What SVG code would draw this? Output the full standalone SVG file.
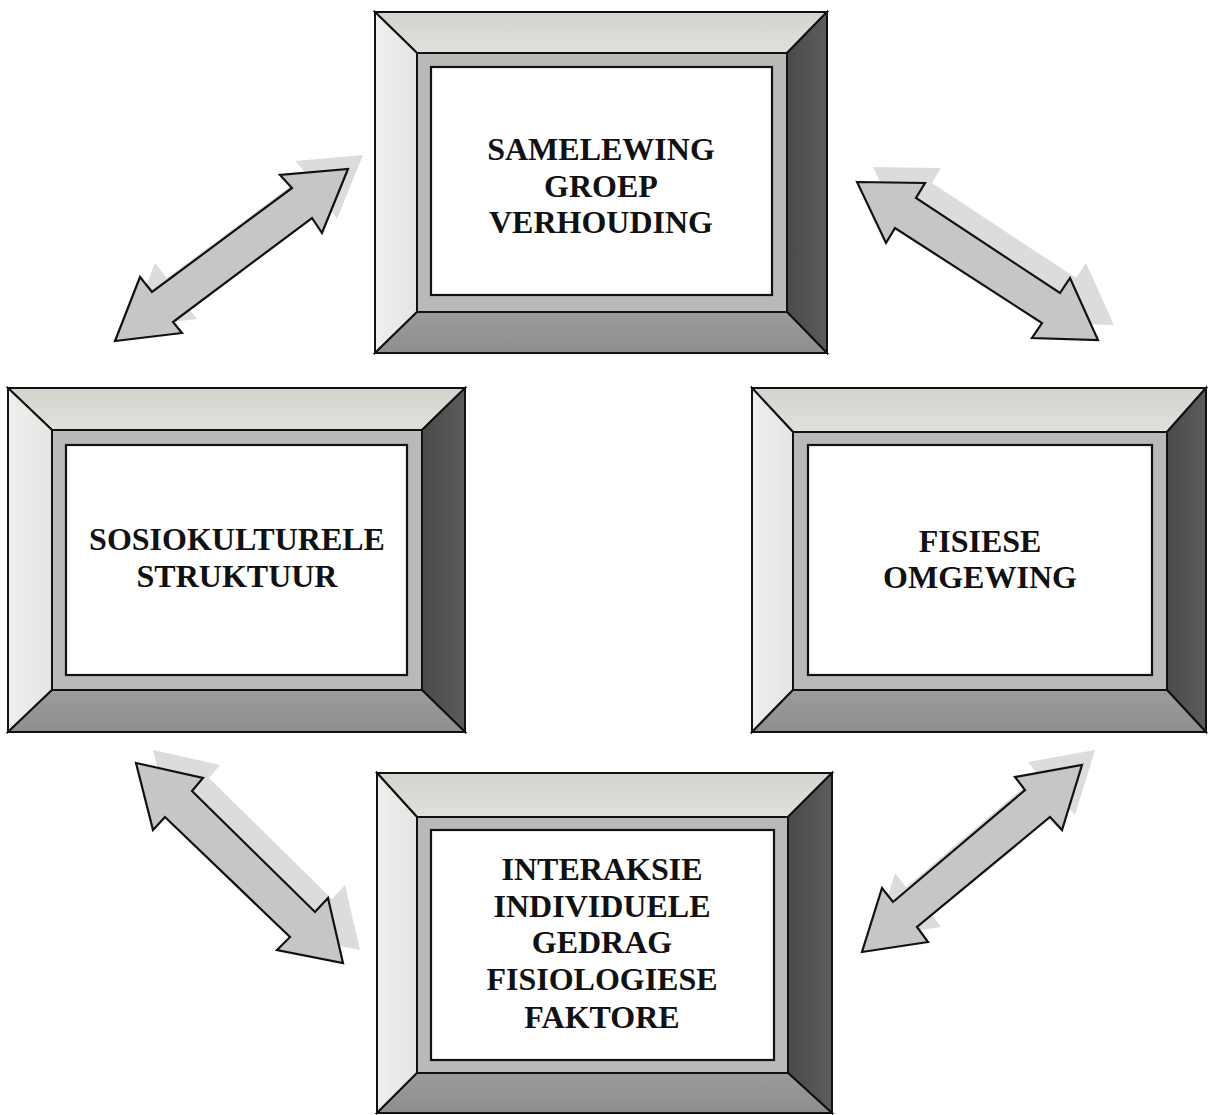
<svg xmlns="http://www.w3.org/2000/svg" width="1208" height="1115" viewBox="0 0 1208 1115">
<defs>
<linearGradient id="gTop" x1="0" y1="0" x2="0" y2="1"><stop offset="0" stop-color="#d4d4cf"/><stop offset="1" stop-color="#e0e0dc"/></linearGradient>
<linearGradient id="gLeft" x1="0" y1="0" x2="1" y2="0"><stop offset="0" stop-color="#efefed"/><stop offset="1" stop-color="#e4e4e2"/></linearGradient>
<linearGradient id="gRight" x1="0" y1="0" x2="1" y2="0"><stop offset="0" stop-color="#4a4a4a"/><stop offset="1" stop-color="#5c5c5c"/></linearGradient>
<linearGradient id="gBot" x1="0" y1="0" x2="0" y2="1"><stop offset="0" stop-color="#9c9c9a"/><stop offset="1" stop-color="#8e8e8c"/></linearGradient>
</defs>
<style>
.top{fill:url(#gTop);stroke:#111;stroke-width:2;stroke-linejoin:miter}
.lft{fill:url(#gLeft);stroke:#111;stroke-width:2}
.rgt{fill:url(#gRight);stroke:#111;stroke-width:2}
.bot{fill:url(#gBot);stroke:#111;stroke-width:2}
.band{fill:#b9b9b7;stroke:#111;stroke-width:2}
.win{fill:#fff;stroke:#111;stroke-width:2.2}
.lbl{font-family:"Liberation Serif","Times New Roman",serif;font-weight:bold;font-size:32px;fill:#111;text-anchor:middle}
.arr{fill:#c6c6c4;stroke:#111;stroke-width:2.2;stroke-linejoin:miter}
.shd{fill:#dcdcda;stroke:none}
</style>
<rect width="1208" height="1115" fill="#fff"/>

<g id="connectors">
  <g id="arrow-top-left">
    <polygon class="shd" transform="translate(15,-14)" points="348,169 322,233 312,218 173,322 182,333 115,341 140,277 152,292 292,188 280,175"/>
    <polygon class="arr" points="348,169 322,233 312,218 173,322 182,333 115,341 140,277 152,292 292,188 280,175"/>
  </g>
  <g id="arrow-top-right">
    <polygon class="shd" transform="translate(16,-15)" points="857,182 925,183 916,198 1060,293 1070,278 1098,340 1032,338 1042,323 895,228 886,243"/>
    <polygon class="arr" points="857,182 925,183 916,198 1060,293 1070,278 1098,340 1032,338 1042,323 895,228 886,243"/>
  </g>
  <g id="arrow-bottom-left">
    <polygon class="shd" transform="translate(17,-13)" points="136,763 203,778 192,791 315,912 328,898 343,963 277,950 290,937 165,817 153,830"/>
    <polygon class="arr" points="136,763 203,778 192,791 315,912 328,898 343,963 277,950 290,937 165,817 153,830"/>
  </g>
  <g id="arrow-bottom-right">
    <polygon class="shd" transform="translate(13,-15)" points="1082,765 1062,830 1050,817 917,927 928,942 862,952 882,888 893,902 1025,790 1015,777"/>
    <polygon class="arr" points="1082,765 1062,830 1050,817 917,927 928,942 862,952 882,888 893,902 1025,790 1015,777"/>
  </g>
</g>

<g id="node-samelewing">
  <polygon class="top" points="375,12 827,12 787,53 417,53"/>
  <polygon class="lft" points="375,12 417,53 417,312 375,353"/>
  <polygon class="rgt" points="827,12 827,353 787,312 787,53"/>
  <polygon class="bot" points="375,353 417,312 787,312 827,353"/>
  <rect class="band" x="417" y="53" width="370" height="259"/>
  <rect class="win" x="431" y="67" width="341" height="228"/>
  <text class="lbl" x="601" y="160">SAMELEWING</text>
  <text class="lbl" x="601" y="197">GROEP</text>
  <text class="lbl" x="601" y="233">VERHOUDING</text>
</g>

<g id="node-sosiokulturele">
  <polygon class="top" points="8,388 465,388 422,430 52,430"/>
  <polygon class="lft" points="8,388 52,430 52,690 8,732"/>
  <polygon class="rgt" points="465,388 465,732 422,690 422,430"/>
  <polygon class="bot" points="8,732 52,690 422,690 465,732"/>
  <rect class="band" x="52" y="430" width="370" height="260"/>
  <rect class="win" x="66" y="445" width="341" height="230"/>
  <text class="lbl" x="237" y="550">SOSIOKULTURELE</text>
  <text class="lbl" x="237" y="587">STRUKTUUR</text>
</g>

<g id="node-fisiese">
  <polygon class="top" points="752,388 1206,388 1167,432 793,432"/>
  <polygon class="lft" points="752,388 793,432 793,690 752,732"/>
  <polygon class="rgt" points="1206,388 1206,732 1167,690 1167,432"/>
  <polygon class="bot" points="752,732 793,690 1167,690 1206,732"/>
  <rect class="band" x="793" y="432" width="374" height="258"/>
  <rect class="win" x="808" y="445" width="344" height="230"/>
  <text class="lbl" x="980" y="552">FISIESE</text>
  <text class="lbl" x="980" y="588">OMGEWING</text>
</g>

<g id="node-interaksie">
  <polygon class="top" points="377,773 832,773 788,817 417,817"/>
  <polygon class="lft" points="377,773 417,817 417,1073 377,1113"/>
  <polygon class="rgt" points="832,773 832,1113 788,1073 788,817"/>
  <polygon class="bot" points="377,1113 417,1073 788,1073 832,1113"/>
  <rect class="band" x="417" y="817" width="371" height="256"/>
  <rect class="win" x="431" y="830" width="343" height="230"/>
  <text class="lbl" x="602" y="880">INTERAKSIE</text>
  <text class="lbl" x="602" y="917">INDIVIDUELE</text>
  <text class="lbl" x="602" y="953">GEDRAG</text>
  <text class="lbl" x="602" y="990">FISIOLOGIESE</text>
  <text class="lbl" x="602" y="1028">FAKTORE</text>
</g>
</svg>
